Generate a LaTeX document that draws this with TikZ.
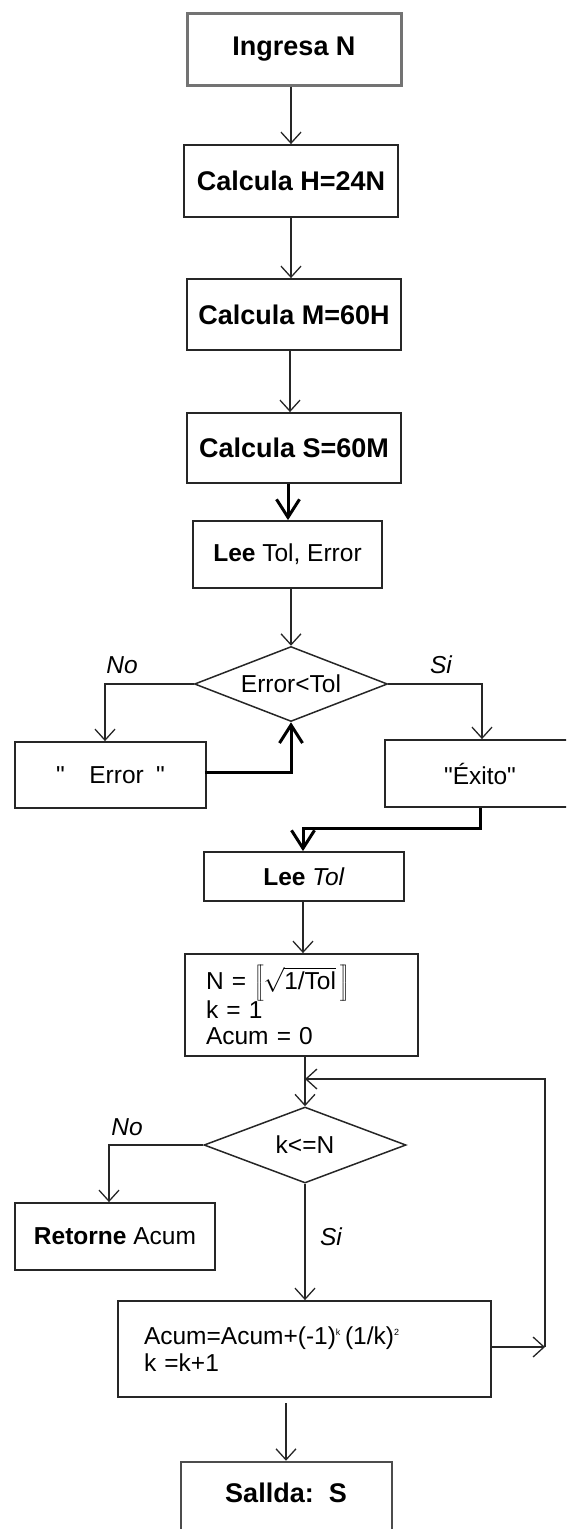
\documentclass[tikz,border=0pt]{standalone}
\usepackage{fontspec}
\setmainfont{Liberation Sans}[Ligatures=TeXOff]
\usetikzlibrary{shapes.geometric,arrows.meta}
\newcommand{\dq}{\char34\relax}
\begin{document}
\begin{tikzpicture}[x=1pt,y=-1pt,
  box/.style={draw=black!85,line width=1.8pt,rectangle,inner sep=0pt,font=\fontsize{24.5}{26.5}\selectfont},
  hbox/.style={box,font=\fontsize{27}{30}\selectfont\bfseries},
  gbox/.style={hbox,draw=black!55,line width=3pt},
  dec/.style={draw=black!85,line width=1.5pt,diamond,aspect=2.5,inner sep=0pt,font=\fontsize{24.5}{27}\selectfont},
  arr/.style={draw=black!85,line width=1.3pt,-{Straight Barb[length=11pt,width=20pt]}},
  tarr/.style={draw=black,line width=3pt,-{Straight Barb[length=18pt,width=23pt]}},
  lbl/.style={font=\fontsize{24.5}{27}\selectfont\itshape,inner sep=0pt},
]
\useasboundingbox (0,0) rectangle (566,1529);
\clip (0,0) rectangle (566,1529);

% nodes
\node[gbox,minimum width=214pt,minimum height=72pt] (ingresa) at (294,49) {Ingresa N};
\node[hbox,minimum width=214pt,minimum height=72pt] (calch) at (291,181) {Calcula H=24N};
\node[hbox,minimum width=214pt,minimum height=71pt] (calcm) at (294,314.5) {Calcula M=60H};
\node[hbox,minimum width=214pt,minimum height=70pt] (calcs) at (294,448) {Calcula S=60M};
\node[box,minimum width=189pt,minimum height=67pt] (leete) at (287.5,554.5) {\textbf{Lee} Tol, Error};
\node[dec,minimum width=193pt,minimum height=75pt] (d1) at (291,684) {Error<Tol};
\node[box,minimum width=191pt,minimum height=66pt] (err) at (110.5,775) {\dq\quad Error\enspace \dq};
\node[box,minimum width=190pt,minimum height=67pt] (exito) at (480,773.5) {\dq Éxito\dq};
\node[box,minimum width=200pt,minimum height=49pt] (leet) at (304,876.5) {\textbf{Lee} \textit{Tol}};
\node[box,minimum width=233pt,minimum height=102pt,text width=191pt,align=left] (nbox) at (301.5,1005)
  {N = $\left[\!\left[\sqrt{\mbox{1/Tol}}\,\right]\!\right]$\\[-2pt] k = 1\\ Acum = 0};
\node[dec,minimum width=202pt,minimum height=76pt] (d2) at (305,1145) {k<=N};
\node[box,minimum width=200pt,minimum height=67pt] (ret) at (115,1236.5) {\textbf{Retorne} Acum};
\node[box,minimum width=373pt,minimum height=96pt,text width=321pt,align=left] (acum) at (304.5,1349)
  {Acum=Acum+(-1)\textsuperscript{\fontsize{9}{9}\selectfont k}\,(1/k)\textsuperscript{\fontsize{9}{9}\selectfont 2}\\ k =k+1};
\node[box,draw=black!70,line width=2.5pt,minimum width=211pt,minimum height=90pt] (sal) at (286.5,1507) {};
\node[font=\fontsize{27}{30}\selectfont\bfseries,inner sep=0pt] (saltxt) at (286,1493) {Sallda:\ \ S};

\node[lbl] (no1) at (122,665) {No};
\node[lbl] (si1) at (441,665) {Si};
\node[lbl] (no2) at (127,1127) {No};
\node[lbl] (si2) at (331,1237) {Si};

% helper coordinates
\coordinate (ax1) at (291,0);
\coordinate (ax1b) at (290,0);
\coordinate (ax0) at (288,0);
\coordinate (e1) at (480,828);
\coordinate (ax3) at (303,0);
\coordinate (ax4) at (305,0);
\coordinate (loopR) at (545,1347);
\coordinate (loopJ) at (305,1079);
\coordinate (a5) at (286,1403);

% connectors
\draw[arr] (ingresa.south -| ax1) -- (calch.north -| ax1);
\draw[arr] (calch.south -| ax1) -- (calcm.north -| ax1);
\draw[arr] (calcm.south -| ax1b) -- (calcs.north -| ax1b);
\draw[tarr] (calcs.south -| ax0) -- (leete.north -| ax0);
\draw[arr] (leete.south -| ax1) -- (d1.north);
\draw[arr] (d1.west) -| ([xshift=-5.5pt]err.north);
\draw[arr] (d1.east) -| ([xshift=2pt]exito.north);
\draw[tarr] ([xshift=-2pt,yshift=3pt]err.east) -| (d1.south);
\draw[tarr] (exito.south -| e1) -- (e1) -| (leet.north -| ax3);
\draw[arr] (leet.south -| ax3) -- (nbox.north -| ax3);
\draw[arr] (nbox.south -| ax4) -- (d2.north);
\draw[arr] (d2.west) -| ([xshift=-6pt]ret.north);
\draw[arr] (d2.south) -- (acum.north -| d2.south);
\draw[arr] (acum.east |- loopR) -- (loopR);
\draw[arr] (loopR) |- (loopJ);
\draw[arr] (a5) -- (sal.north -| a5);
\end{tikzpicture}
\end{document}
